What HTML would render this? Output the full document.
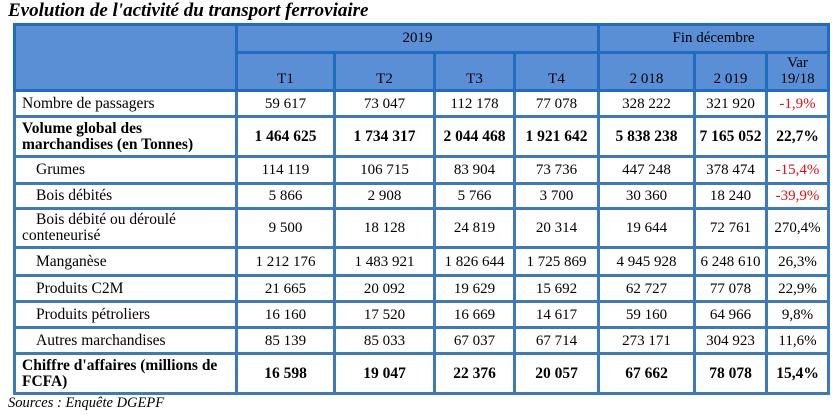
<!DOCTYPE html>
<html><head><meta charset="utf-8"><style>
body{margin:0;width:838px;height:415px;background:#fff;position:relative;font-family:"Liberation Serif",serif;overflow:hidden}
.t{position:absolute;left:8px;top:0px;font-size:19px;font-weight:bold;font-style:italic;color:#000}
.s{position:absolute;left:8px;top:395px;font-size:14.5px;font-style:italic;color:#000}
table{position:absolute;left:13px;top:23px;border-collapse:collapse;table-layout:fixed;width:814px;font-size:15px}
td{border:3px solid #3e78bf;padding:0 3px;text-align:center;vertical-align:middle;line-height:16px;white-space:nowrap}
tr.h td{background:#5a8fd6;border-color:#1f6cc0;vertical-align:bottom;padding-bottom:2px}
td.l,td.i{text-align:left;padding-left:6px;font-size:15.5px}
td.i{padding-left:20px}
.b td{font-weight:bold;font-size:15.5px}
.b td.l{font-size:15.5px}
.r{color:#e0101a}
</style></head><body>
<div class="t">Evolution de l'activité du transport ferroviaire</div>
<table>
<colgroup><col style="width:222px"><col style="width:98px"><col style="width:100px"><col style="width:80px"><col style="width:84px"><col style="width:96px"><col style="width:72px"><col style="width:62px"></colgroup>
<tr class="h" style="height:28px"><td rowspan="2"></td><td colspan="4" style="vertical-align:middle">2019</td><td colspan="3" style="vertical-align:middle">Fin décembre</td></tr>
<tr class="h" style="height:38px"><td>T1</td><td>T2</td><td>T3</td><td>T4</td><td>2 018</td><td>2 019</td><td>Var<br>19/18</td></tr>
<tr style="height:26px"><td class="l">Nombre de passagers</td><td>59 617</td><td>73 047</td><td>112 178</td><td>77 078</td><td>328 222</td><td>321 920</td><td class="r">-1,9%</td></tr>
<tr class="b" style="height:40px"><td class="l">Volume global des<br>marchandises (en Tonnes)</td><td>1 464 625</td><td>1 734 317</td><td>2 044 468</td><td>1 921 642</td><td>5 838 238</td><td>7 165 052</td><td>22,7%</td></tr>
<tr style="height:27px"><td class="i">Grumes</td><td>114 119</td><td>106 715</td><td>83 904</td><td>73 736</td><td>447 248</td><td>378 474</td><td class="r">-15,4%</td></tr>
<tr style="height:25px"><td class="i">Bois débités</td><td>5 866</td><td>2 908</td><td>5 766</td><td>3 700</td><td>30 360</td><td>18 240</td><td class="r">-39,9%</td></tr>
<tr style="height:39px"><td class="i">Bois débité ou déroulé<br><span style="margin-left:-14px">conteneurisé</span></td><td>9 500</td><td>18 128</td><td>24 819</td><td>20 314</td><td>19 644</td><td>72 761</td><td>270,4%</td></tr>
<tr style="height:28px"><td class="i">Manganèse</td><td>1 212 176</td><td>1 483 921</td><td>1 826 644</td><td>1 725 869</td><td>4 945 928</td><td>6 248 610</td><td>26,3%</td></tr>
<tr style="height:26px"><td class="i">Produits C2M</td><td>21 665</td><td>20 092</td><td>19 629</td><td>15 692</td><td>62 727</td><td>77 078</td><td>22,9%</td></tr>
<tr style="height:26px"><td class="i">Produits pétroliers</td><td>16 160</td><td>17 520</td><td>16 669</td><td>14 617</td><td>59 160</td><td>64 966</td><td>9,8%</td></tr>
<tr style="height:26px"><td class="i">Autres marchandises</td><td>85 139</td><td>85 033</td><td>67 037</td><td>67 714</td><td>273 171</td><td>304 923</td><td>11,6%</td></tr>
<tr class="b" style="height:40px"><td class="l">Chiffre d'affaires (millions de<br>FCFA)</td><td>16 598</td><td>19 047</td><td>22 376</td><td>20 057</td><td>67 662</td><td>78 078</td><td>15,4%</td></tr>
</table>
<div class="s">Sources : Enquête DGEPF</div>
</body></html>
